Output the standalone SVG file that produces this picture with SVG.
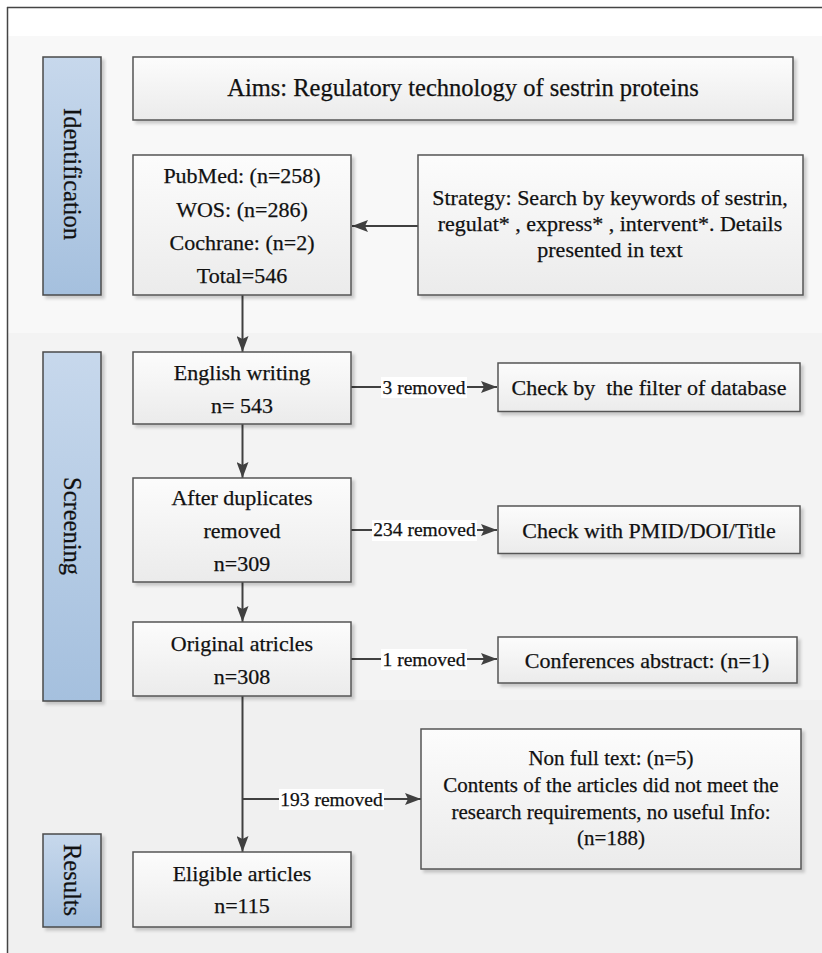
<svg xmlns="http://www.w3.org/2000/svg" width="822" height="953" viewBox="0 0 822 953">
<defs>
<linearGradient id="boxg" x1="0" y1="0" x2="0" y2="1">
<stop offset="0" stop-color="#fcfcfc"/><stop offset="1" stop-color="#ebebeb"/>
</linearGradient>
<linearGradient id="blueg" x1="0" y1="0" x2="0" y2="1">
<stop offset="0" stop-color="#c7d8ec"/><stop offset="1" stop-color="#a5c0de"/>
</linearGradient>
<filter id="sh" x="-5%" y="-5%" width="115%" height="120%">
<feDropShadow dx="3" dy="3" stdDeviation="1.5" flood-color="#000" flood-opacity="0.18"/>
</filter>
<marker id="ah" markerUnits="userSpaceOnUse" markerWidth="16" markerHeight="12" refX="16" refY="6" orient="auto">
<path d="M0,0 L16,6 L0,12 L3,6 z" fill="#404040"/>
</marker>
</defs>
<style>
.box{fill:url(#boxg);stroke:#555;stroke-width:1.5;filter:url(#sh)}
.lane{fill:url(#blueg);stroke:#4a4a4a;stroke-width:1.5;filter:url(#sh)}
text{font-family:"Liberation Serif","Times New Roman",serif;fill:#111;stroke:#111;stroke-width:0.25}
.t{font-size:22px;text-anchor:middle}
.ta{font-size:24.5px;text-anchor:middle}
.tn{font-size:21px;text-anchor:middle}
.tl{font-size:24.5px;text-anchor:middle}
.lb{font-size:19.5px;text-anchor:middle}
.c{fill:none;stroke:#404040;stroke-width:2}
.lbg{fill:#ffffff}
</style>
<rect x="0" y="0" width="822" height="953" fill="#ffffff"/>
<rect x="8" y="36" width="814" height="297" fill="#f8f8f8"/>
<rect x="8" y="333" width="814" height="367" fill="#f3f3f3"/>
<rect x="8" y="700" width="814" height="253" fill="#f0f0f0"/>
<line x1="7" y1="7.5" x2="822" y2="7.5" stroke="#444" stroke-width="1.5"/>
<line x1="7.5" y1="7" x2="7.5" y2="953" stroke="#444" stroke-width="1.5"/>

<g id="lane-identification">
<rect class="lane" x="43" y="57" width="58" height="238"/>
<text class="tl" transform="translate(72,174) rotate(90)" x="0" y="8">Identification</text>
</g>
<g id="lane-screening">
<rect class="lane" x="43" y="352" width="58" height="349"/>
<text class="tl" transform="translate(72,526) rotate(90)" x="0" y="8">Screening</text>
</g>
<g id="lane-results">
<rect class="lane" x="43" y="834" width="58" height="93"/>
<text class="tl" transform="translate(72,880) rotate(90)" x="0" y="8">Results</text>
</g>

<g id="connectors">
<line class="c" x1="418" y1="226" x2="352" y2="226" marker-end="url(#ah)"/>
<line class="c" x1="242.5" y1="295" x2="242.5" y2="352" marker-end="url(#ah)"/>
<line class="c" x1="242.5" y1="424" x2="242.5" y2="478" marker-end="url(#ah)"/>
<line class="c" x1="242.5" y1="582" x2="242.5" y2="622" marker-end="url(#ah)"/>
<line class="c" x1="242.5" y1="696" x2="242.5" y2="852" marker-end="url(#ah)"/>
<line class="c" x1="351" y1="387" x2="497" y2="387" marker-end="url(#ah)"/>
<line class="c" x1="351" y1="530" x2="497" y2="530" marker-end="url(#ah)"/>
<line class="c" x1="351" y1="659" x2="497" y2="659" marker-end="url(#ah)"/>
<line class="c" x1="242.5" y1="799" x2="421" y2="799" marker-end="url(#ah)"/>
<rect class="lbg" x="381" y="377" width="86" height="21"/>
<text class="lb" x="424" y="394">3 removed</text>
<rect class="lbg" x="372" y="520" width="105" height="21"/>
<text class="lb" x="424.5" y="536">234 removed</text>
<rect class="lbg" x="381" y="649" width="86" height="21"/>
<text class="lb" x="424" y="665.5">1 removed</text>
<rect class="lbg" x="279" y="789" width="105" height="21"/>
<text class="lb" x="331.5" y="805.5">193 removed</text>
</g>

<g id="aims">
<rect class="box" x="133" y="57" width="660" height="63"/>
<text class="ta" x="463" y="96">Aims: Regulatory technology of sestrin proteins</text>
</g>
<g id="sources">
<rect class="box" x="133" y="155" width="218" height="140"/>
<text class="t" x="242" y="183">PubMed: (n=258)</text>
<text class="t" x="242" y="216.5">WOS: (n=286)</text>
<text class="t" x="242" y="250">Cochrane: (n=2)</text>
<text class="t" x="242" y="283">Total=546</text>
</g>
<g id="strategy">
<rect class="box" x="418" y="155" width="385" height="140"/>
<text class="t" x="610" y="205">Strategy: Search by keywords of sestrin,</text>
<text class="t" x="610" y="231">regulat* , express* , intervent*. Details</text>
<text class="t" x="610" y="257">presented in text</text>
</g>
<g id="english">
<rect class="box" x="133" y="352" width="218" height="72"/>
<text class="t" x="242" y="380">English writing</text>
<text class="t" x="242" y="413">n= 543</text>
</g>
<g id="check-filter">
<rect class="box" x="498" y="363" width="302" height="48.5"/>
<text class="t" x="649" y="395" xml:space="preserve">Check by  the filter of database</text>
</g>
<g id="duplicates">
<rect class="box" x="133" y="478" width="218" height="104"/>
<text class="t" x="242" y="504.5">After duplicates</text>
<text class="t" x="242" y="537.5">removed</text>
<text class="t" x="242" y="571">n=309</text>
</g>
<g id="check-pmid">
<rect class="box" x="498" y="506" width="302" height="47.5"/>
<text class="t" x="649" y="537.5">Check with PMID/DOI/Title</text>
</g>
<g id="original">
<rect class="box" x="133" y="622" width="218" height="74"/>
<text class="t" x="242" y="651">Original atricles</text>
<text class="t" x="242" y="684">n=308</text>
</g>
<g id="conferences">
<rect class="box" x="498" y="637" width="299" height="46"/>
<text class="t" x="647" y="668">Conferences abstract: (n=1)</text>
</g>
<g id="nonfull">
<rect class="box" x="421" y="729" width="380" height="140"/>
<text class="tn" x="611" y="765">Non full text: (n=5)</text>
<text class="tn" x="611" y="792">Contents of the articles did not meet the</text>
<text class="tn" x="611" y="818.5">research requirements, no useful Info:</text>
<text class="tn" x="611" y="845">(n=188)</text>
</g>
<g id="eligible">
<rect class="box" x="133" y="852" width="218" height="75"/>
<text class="t" x="242" y="880.5">Eligible articles</text>
<text class="t" x="242" y="913">n=115</text>
</g>
</svg>
